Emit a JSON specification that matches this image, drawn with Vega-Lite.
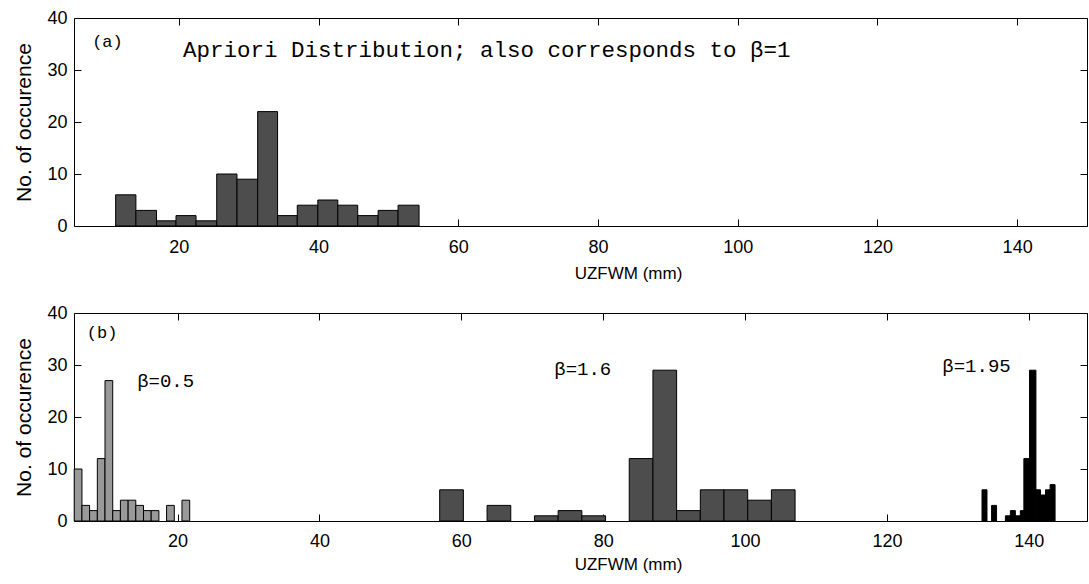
{
  "$schema": "https://vega.github.io/schema/vega-lite/v6.json",
  "background": "white",
  "padding": {"left": 13, "top": 8, "right": 0, "bottom": 0},
  "spacing": 21,
  "config": {
    "view": {"stroke": "black", "strokeWidth": 1},
    "axis": {
      "labelFont": "Liberation Sans", "titleFont": "Liberation Sans",
      "labelColor": "black", "titleColor": "black", "titleFontWeight": "normal",
      "grid": false, "domain": false, "tickColor": "black", "tickSize": -7, "tickWidth": 1,
      "labelFontSize": 18, "titleFontSize": 17
    }
  },
  "datasets": {
    "a_bars": [
      {"start": 10.96, "end": 13.86, "count": 6},
      {"start": 13.86, "end": 16.81, "count": 3},
      {"start": 16.81, "end": 19.6, "count": 1},
      {"start": 19.6, "end": 22.47, "count": 2},
      {"start": 22.47, "end": 25.43, "count": 1},
      {"start": 25.43, "end": 28.33, "count": 10},
      {"start": 28.33, "end": 31.29, "count": 9},
      {"start": 31.29, "end": 34.14, "count": 22},
      {"start": 34.14, "end": 36.96, "count": 2},
      {"start": 36.96, "end": 39.9, "count": 4},
      {"start": 39.9, "end": 42.76, "count": 5},
      {"start": 42.76, "end": 45.61, "count": 4},
      {"start": 45.61, "end": 48.53, "count": 2},
      {"start": 48.53, "end": 51.39, "count": 3},
      {"start": 51.39, "end": 54.39, "count": 4}
    ],
    "b_bars": [
      {"start": 5.43, "end": 6.52, "count": 10, "group": "beta05"},
      {"start": 6.52, "end": 7.6, "count": 3, "group": "beta05"},
      {"start": 7.6, "end": 8.69, "count": 2, "group": "beta05"},
      {"start": 8.69, "end": 9.77, "count": 12, "group": "beta05"},
      {"start": 9.77, "end": 10.86, "count": 27, "group": "beta05"},
      {"start": 10.86, "end": 11.94, "count": 2, "group": "beta05"},
      {"start": 11.94, "end": 13.03, "count": 4, "group": "beta05"},
      {"start": 13.03, "end": 14.11, "count": 4, "group": "beta05"},
      {"start": 14.11, "end": 15.2, "count": 3, "group": "beta05"},
      {"start": 15.2, "end": 16.28, "count": 2, "group": "beta05"},
      {"start": 16.28, "end": 17.37, "count": 2, "group": "beta05"},
      {"start": 18.45, "end": 19.54, "count": 3, "group": "beta05"},
      {"start": 20.62, "end": 21.71, "count": 4, "group": "beta05"},
      {"start": 56.95, "end": 60.29, "count": 6, "group": "beta16"},
      {"start": 63.63, "end": 66.97, "count": 3, "group": "beta16"},
      {"start": 70.31, "end": 73.65, "count": 1, "group": "beta16"},
      {"start": 73.65, "end": 76.99, "count": 2, "group": "beta16"},
      {"start": 76.99, "end": 80.33, "count": 1, "group": "beta16"},
      {"start": 83.67, "end": 87.01, "count": 12, "group": "beta16"},
      {"start": 87.01, "end": 90.35, "count": 29, "group": "beta16"},
      {"start": 90.35, "end": 93.69, "count": 2, "group": "beta16"},
      {"start": 93.69, "end": 97.03, "count": 6, "group": "beta16"},
      {"start": 97.03, "end": 100.37, "count": 6, "group": "beta16"},
      {"start": 100.37, "end": 103.71, "count": 4, "group": "beta16"},
      {"start": 103.71, "end": 107.05, "count": 6, "group": "beta16"},
      {"start": 133.4, "end": 134.1, "count": 6, "group": "beta195"},
      {"start": 134.75, "end": 135.45, "count": 3, "group": "beta195"},
      {"start": 136.7, "end": 137.4, "count": 1, "group": "beta195"},
      {"start": 137.4, "end": 138.1, "count": 2, "group": "beta195"},
      {"start": 138.1, "end": 138.8, "count": 1, "group": "beta195"},
      {"start": 138.8, "end": 139.3, "count": 2, "group": "beta195"},
      {"start": 139.3, "end": 140.1, "count": 12, "group": "beta195"},
      {"start": 140.1, "end": 141.0, "count": 29, "group": "beta195"},
      {"start": 141.0, "end": 141.65, "count": 6, "group": "beta195"},
      {"start": 141.65, "end": 142.35, "count": 5, "group": "beta195"},
      {"start": 142.35, "end": 143.0, "count": 6, "group": "beta195"},
      {"start": 143.0, "end": 143.7, "count": 7, "group": "beta195"}
    ],
    "a_tag": [{"x": 7.6, "y": 35.4, "label": "(a)"}],
    "a_note": [{"x": 20.6, "y": 33.8, "label": "Apriori Distribution; also corresponds to β=1"}],
    "b_tag": [{"x": 7.2, "y": 36.2, "label": "(b)"}],
    "b_notes": [
      {"x": 14.3, "y": 26.9, "label": "β=0.5"},
      {"x": 73.1, "y": 29.2, "label": "β=1.6"},
      {"x": 127.8, "y": 29.8, "label": "β=1.95"}
    ]
  },
  "vconcat": [
    {
      "width": 1013,
      "height": 208,
      "layer": [
        {
          "data": {"name": "a_bars"},
          "mark": {"type": "bar", "fill": "#4d4d4d", "stroke": "black", "strokeWidth": 1},
          "encoding": {
            "x": {"field": "start", "type": "quantitative",
              "scale": {"domain": [5, 150], "nice": false, "zero": false},
              "axis": {"orient": "bottom", "values": [20, 40, 60, 80, 100, 120, 140], "title": "UZFWM (mm)", "labelPadding": 19, "titlePadding": 9, "titleX": 554}},
            "x2": {"field": "end"},
            "y": {"field": "count", "type": "quantitative", "stack": null,
              "scale": {"domain": [0, 40], "nice": false},
              "axis": {"orient": "left", "values": [0, 10, 20, 30, 40], "title": "No. of occurence", "titleFontSize": 21, "labelPadding": 14, "titlePadding": 12}},
            "y2": {"datum": 0}
          }
        },
        {
          "data": {"name": "a_tag"},
          "mark": {"type": "text", "align": "left", "baseline": "middle", "font": "Liberation Mono", "fontSize": 17, "color": "black"},
          "encoding": {
            "x": {"field": "x", "type": "quantitative",
              "axis": {"orient": "top", "labels": false, "title": null, "values": [20, 40, 60, 80, 100, 120, 140]}},
            "y": {"field": "y", "type": "quantitative",
              "axis": {"orient": "right", "labels": false, "title": null, "values": [0, 10, 20, 30, 40]}},
            "text": {"field": "label"}
          }
        },
        {
          "data": {"name": "a_note"},
          "mark": {"type": "text", "align": "left", "baseline": "middle", "font": "Liberation Mono", "fontSize": 22.5, "color": "black"},
          "encoding": {
            "x": {"field": "x", "type": "quantitative", "axis": null},
            "y": {"field": "y", "type": "quantitative", "axis": null},
            "text": {"field": "label"}
          }
        }
      ],
      "resolve": {"axis": {"x": "independent", "y": "independent"}}
    },
    {
      "width": 1013,
      "height": 208,
      "layer": [
        {
          "data": {"name": "b_bars"},
          "mark": {"type": "bar", "stroke": "black", "strokeWidth": 1},
          "encoding": {
            "x": {"field": "start", "type": "quantitative",
              "scale": {"domain": [5.4, 148.2], "nice": false, "zero": false},
              "axis": {"orient": "bottom", "values": [20, 40, 60, 80, 100, 120, 140], "title": "UZFWM (mm)", "labelPadding": 18, "titlePadding": 6, "titleX": 554}},
            "x2": {"field": "end"},
            "y": {"field": "count", "type": "quantitative", "stack": null,
              "scale": {"domain": [0, 40], "nice": false},
              "axis": {"orient": "left", "values": [0, 10, 20, 30, 40], "title": "No. of occurence", "titleFontSize": 21, "labelPadding": 14, "titlePadding": 12}},
            "y2": {"datum": 0},
            "color": {"field": "group", "type": "nominal",
              "scale": {"domain": ["beta05", "beta16", "beta195"], "range": ["#999999", "#4d4d4d", "#000000"]},
              "legend": null}
          }
        },
        {
          "data": {"name": "b_tag"},
          "mark": {"type": "text", "align": "left", "baseline": "middle", "font": "Liberation Mono", "fontSize": 17, "color": "black"},
          "encoding": {
            "x": {"field": "x", "type": "quantitative",
              "axis": {"orient": "top", "labels": false, "title": null, "values": [20, 40, 60, 80, 100, 120, 140]}},
            "y": {"field": "y", "type": "quantitative",
              "axis": {"orient": "right", "labels": false, "title": null, "values": [0, 10, 20, 30, 40]}},
            "text": {"field": "label"}
          }
        },
        {
          "data": {"name": "b_notes"},
          "mark": {"type": "text", "align": "left", "baseline": "middle", "font": "Liberation Mono", "fontSize": 19, "color": "black"},
          "encoding": {
            "x": {"field": "x", "type": "quantitative", "axis": null},
            "y": {"field": "y", "type": "quantitative", "axis": null},
            "text": {"field": "label"}
          }
        }
      ],
      "resolve": {"axis": {"x": "independent", "y": "independent"}}
    }
  ]
}
